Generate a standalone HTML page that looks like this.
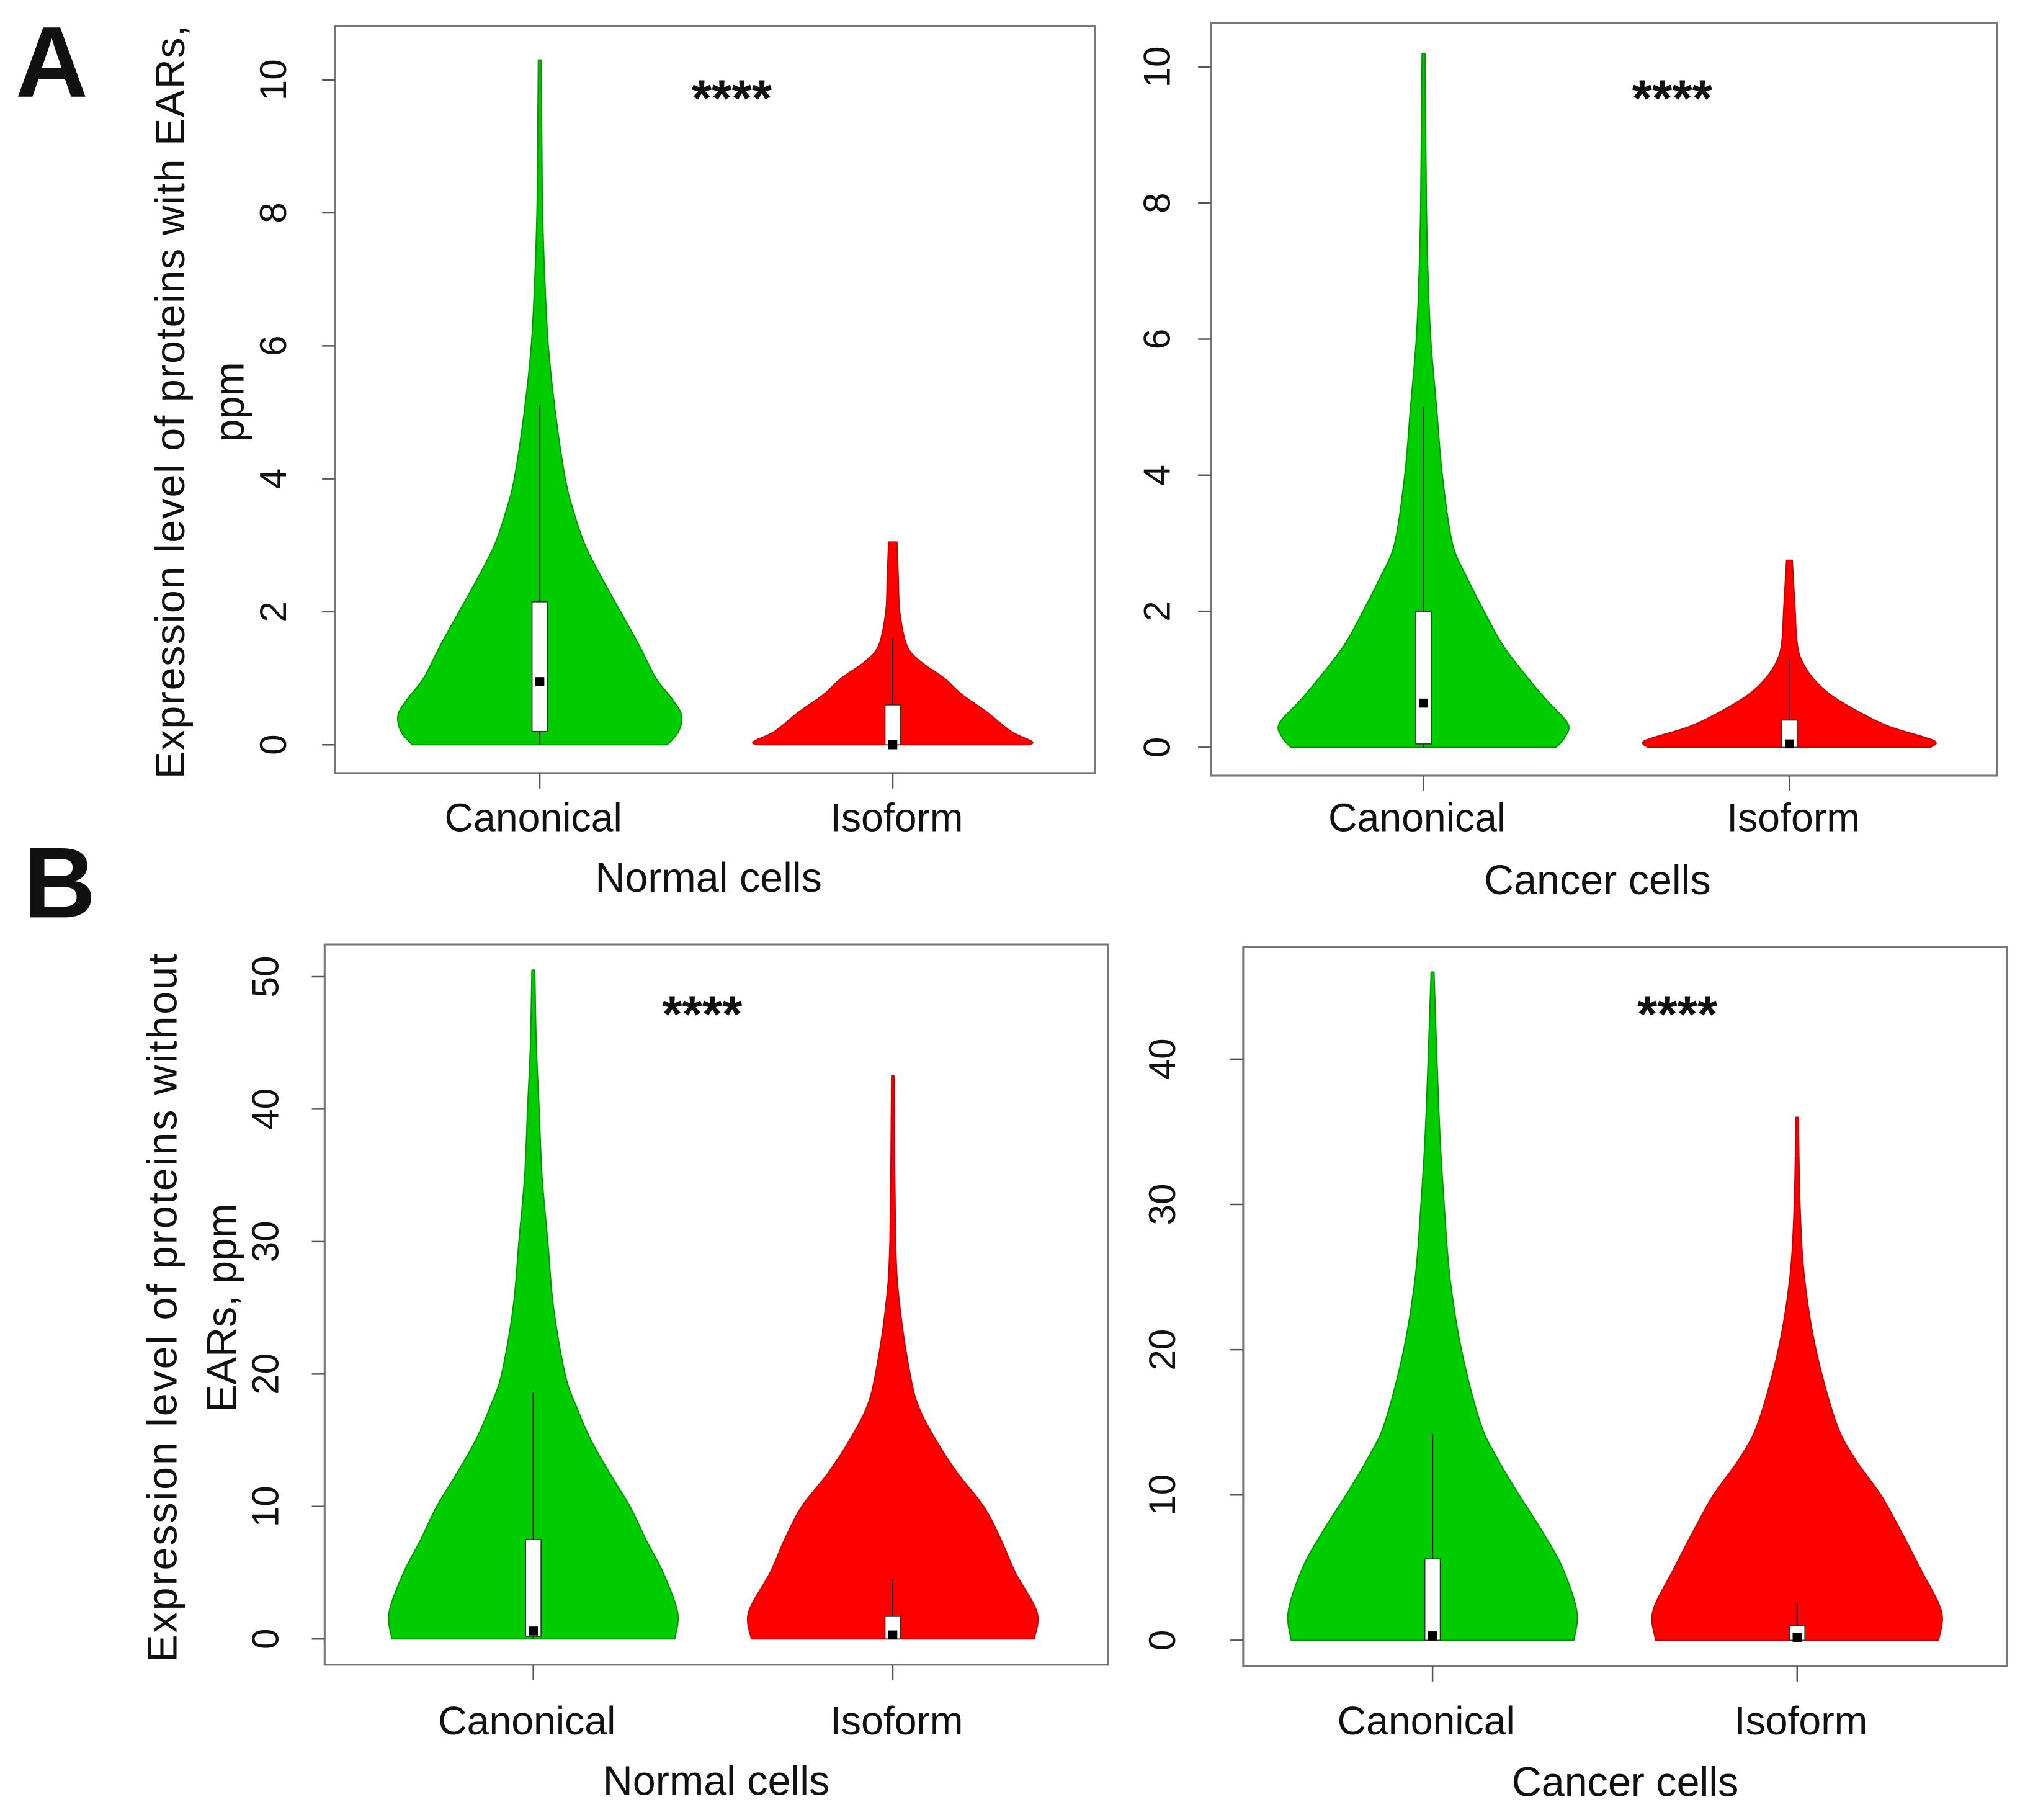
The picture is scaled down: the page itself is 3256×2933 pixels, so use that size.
<!DOCTYPE html>
<html><head><meta charset="utf-8"><style>
html,body{margin:0;padding:0;background:#fff}
svg{display:block}
text{font-family:"Liberation Sans",Arial,sans-serif;fill:#111}
</style></head><body>
<svg id="fig" width="3256" height="2933" viewBox="0 0 1568 1412.5" preserveAspectRatio="none">
<text x="12" y="75" font-size="78" font-weight="bold">A</text>
<text x="18" y="712" font-size="78" font-weight="bold">B</text>
<text transform="translate(143,312) rotate(-90)" text-anchor="middle" font-size="32" textLength="585">Expression level of proteins with EARs,</text>
<text transform="translate(189,312) rotate(-90)" text-anchor="middle" font-size="32">ppm</text>
<text transform="translate(137,1015) rotate(-90)" text-anchor="middle" font-size="32" textLength="550">Expression level of proteins without</text>
<text transform="translate(183,1015) rotate(-90)" text-anchor="middle" font-size="32">EARs, ppm</text>
</svg>
<script>
// Violin density profiles: [value, relative half-width 0..1]
const aNormCanon = [[0,0.9],[0.2,0.98],[0.45,1],[0.7,0.93],[1,0.82],[1.5,0.7],[2,0.57],[2.5,0.44],[3,0.32],[3.5,0.24],[4,0.18],[5,0.11],[6,0.06],[7,0.035],[8,0.02],[9,0.015],[10.3,0.01]];
const aNormIso = [[0,0.98],[0.05,1],[0.2,0.85],[0.5,0.67],[0.75,0.5],[1,0.37],[1.25,0.2],[1.5,0.1],[2,0.05],[2.5,0.04],[3.05,0.03]];
const aCancCanon = [[0,0.92],[0.15,0.98],[0.35,1],[0.7,0.85],[1,0.73],[1.5,0.55],[2,0.42],[2.5,0.3],[3,0.2],[4,0.13],[5,0.09],[6,0.05],[7,0.03],[8,0.02],[10.2,0.01]];
const aCancIso = [[0,0.98],[0.1,1],[0.3,0.7],[0.5,0.5],[0.75,0.3],[1,0.17],[1.3,0.08],[1.6,0.05],[2,0.04],[2.75,0.02]];
const bNormCanon = [[0,0.98],[2,1],[5,0.9],[7.5,0.78],[10,0.67],[12.5,0.53],[15,0.4],[17.5,0.3],[20,0.22],[25,0.14],[30,0.1],[35,0.06],[40,0.04],[45,0.02],[50.5,0.01]];
const bNormIso = [[0,0.98],[2,1],[5,0.85],[7.5,0.75],[10,0.63],[12.5,0.45],[15,0.3],[17.5,0.18],[20,0.12],[25,0.05],[30,0.02],[42.5,0.008]];
const bCancCanon = [[0,0.98],[2,1],[5,0.9],[7.5,0.76],[10,0.6],[12.5,0.45],[15,0.33],[20,0.2],[25,0.12],[30,0.08],[35,0.05],[40,0.03],[46,0.01]];
const bCancIso = [[0,0.98],[2,1],[5,0.85],[7.5,0.72],[10,0.58],[12.5,0.4],[15,0.27],[20,0.13],[25,0.05],[30,0.02],[36,0.008]];
// Box stats: [q1, median, q3, upper whisker]
const boxStats = {
  aNormCanon:[0.2,0.95,2.15,5.1], aNormIso:[0,0,0.6,1.6],
  aCancCanon:[0.05,0.65,2.0,5.0], aCancIso:[0,0.05,0.4,1.3],
  bNormCanon:[0.2,0.6,7.5,18.6], bNormIso:[0,0.3,1.7,4.5],
  bCancCanon:[0,0.3,5.6,14.2], bCancIso:[0,0.2,1.0,2.6]
};
const categories = ["Canonical","Isoform"];
const aTicks = [0,2,4,6,8,10];
const bNormTicks = [0,10,20,30,40,50];
const bCancTicks = [0,10,20,30,40];

const NS="http://www.w3.org/2000/svg";
const svg=document.getElementById('fig');
function mk(tag,attrs,parent){const e=document.createElementNS(NS,tag);for(const k in attrs)e.setAttribute(k,attrs[k]);(parent||svg).appendChild(e);return e;}
function smooth(pts){
  let d='M'+pts[0][0].toFixed(1)+','+pts[0][1].toFixed(1);
  for(let i=0;i<pts.length-1;i++){
    const p0=pts[Math.max(i-1,0)],p1=pts[i],p2=pts[i+1],p3=pts[Math.min(i+2,pts.length-1)];
    const c1=[p1[0]+(p2[0]-p0[0])/6,p1[1]+(p2[1]-p0[1])/6];
    const c2=[p2[0]-(p3[0]-p1[0])/6,p2[1]-(p3[1]-p1[1])/6];
    d+='C'+c1.map(v=>v.toFixed(1)).join(',')+' '+c2.map(v=>v.toFixed(1)).join(',')+' '+p2.map(v=>v.toFixed(1)).join(',');
  }
  return d;
}

const panels=[
 {id:'a-normal',box:[260,20,850,600],y0:578,yTop:62,vTop:10,cx:[419,693],ticks:aTicks,tickX:222,data:[aNormCanon,aNormIso],stats:[boxStats.aNormCanon,boxStats.aNormIso],title:'Normal cells',labY:645,titY:692,star:[568,80],hw:[110,108]},
 {id:'a-cancer',box:[940,18,1550,602],y0:580,yTop:52,vTop:10,cx:[1105,1389],ticks:aTicks,tickX:908,data:[aCancCanon,aCancIso],stats:[boxStats.aCancCanon,boxStats.aCancIso],title:'Cancer cells',labY:645,titY:694,star:[1298,80],hw:[112,112]},
 {id:'b-normal',box:[252,733,860,1292],y0:1272,yTop:758,vTop:50,cx:[414,693],ticks:bNormTicks,tickX:216,data:[bNormCanon,bNormIso],stats:[boxStats.bNormCanon,boxStats.bNormIso],title:'Normal cells',labY:1346,titY:1393,star:[545,791],hw:[112,112]},
 {id:'b-cancer',box:[965,735,1558,1293],y0:1273,yTop:822,vTop:40,cx:[1112,1395],ticks:bCancTicks,tickX:912,data:[bCancCanon,bCancIso],stats:[boxStats.bCancCanon,boxStats.bCancIso],title:'Cancer cells',labY:1346,titY:1394,star:[1302,791],hw:[112,112]}
];

panels.forEach(p=>{
  const g=mk('g',{});
  
  
  const ys=v=>p.y0-(p.y0-p.yTop)*v/p.vTop;
  const [x1,y1,x2,y2]=p.box;
  const fr=mk('rect',{x:x1,y:y1,width:x2-x1,height:y2-y1,fill:'none',stroke:'#777','stroke-width':1.5},g);
  
  
  p.ticks.forEach(t=>{
    const y=ys(t);
    const tk=mk('line',{x1:x1-10,x2:x1,y1:y,y2:y,stroke:'#555','stroke-width':1.2},g);
    
    
    const tl=mk('text',{transform:`translate(${p.tickX},${y}) rotate(-90)`,'text-anchor':'middle','font-size':29,fill:'#333'},g);
    tl.textContent=t;
    
    
  });
  p.data.forEach((d,i)=>{
    const cx=p.cx[i], hw=p.hw[i];
    const right=d.map(([v,w])=>[cx+w*hw,ys(v)]);
    const left=d.slice().reverse().map(([v,w])=>[cx-w*hw,ys(v)]);
    const pts=[...right,...left];
    const dd='M'+cx+','+ys(0)+smooth(right).replace(/^M/,'L')+'L'+cx+','+ys(d[d.length-1][0])+smooth(left).replace(/^M/,'L')+'Z';
    const path=mk('path',{d:dd,fill:i?'#ff0000':'#00cc00',stroke:i?'#cc0000':'#009900','stroke-width':1,'stroke-linejoin':'round'},g);
    
    
    const [q1,med,q3,wh]=p.stats[i];
    const wl=mk('line',{x1:cx,x2:cx,y1:ys(0),y2:ys(wh),stroke:'#111','stroke-width':1},g);
    
    
    const bx=mk('rect',{x:cx-6,y:ys(q3),width:12,height:Math.max(ys(q1)-ys(q3),1),fill:'#fff',stroke:'#333','stroke-width':0.8},g);
    
    
    const md=mk('rect',{x:cx-3.5,y:ys(med)-3.5,width:7,height:7,fill:'#000'},g);
    
    
    const xt=mk('line',{x1:cx,x2:cx,y1:y2,y2:y2+12,stroke:'#555','stroke-width':1.2},g);
    
    
    const xl=mk('text',{x:cx+(i?3:-5),y:p.labY,'text-anchor':'middle','font-size':31,fill:'#222'},g);
    xl.textContent=categories[i];
    
    
  });
  const tt=mk('text',{x:(x1+x2)/2+(p.id.startsWith('a')?-5:0),y:p.titY,'text-anchor':'middle','font-size':32,fill:'#222'},g);
  tt.textContent=p.title;
  
  
  const st=mk('text',{x:p.star[0],y:p.star[1]+10,'text-anchor':'middle','font-size':40,'font-weight':'bold',fill:'#111'},g);
  st.textContent='****';
  
  
});
</script>
</body></html>
